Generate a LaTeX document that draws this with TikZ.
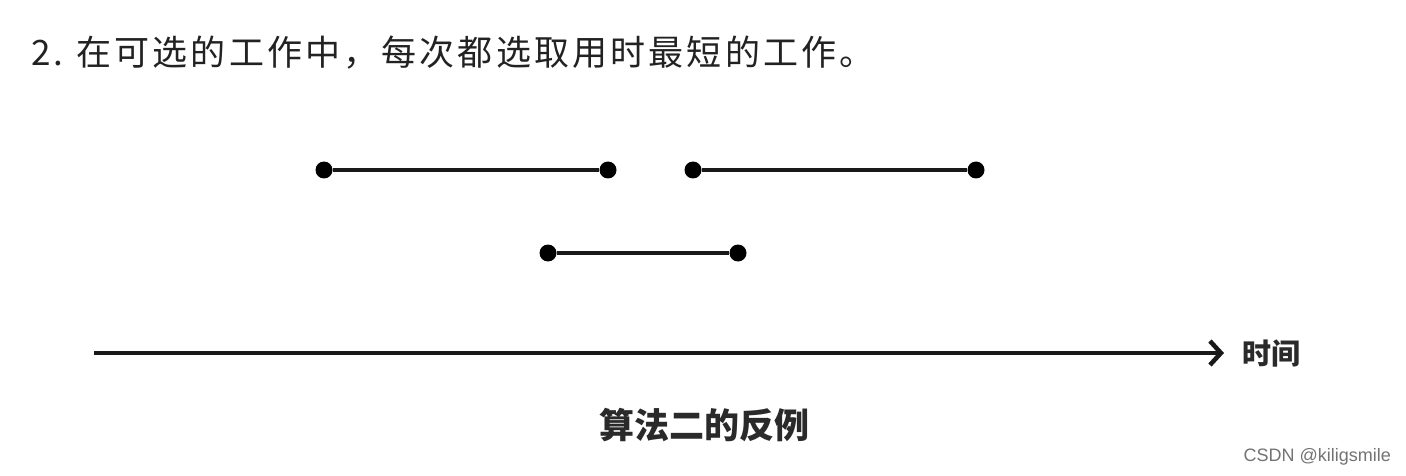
\documentclass[tikz,border=0pt]{standalone}
\usepackage{fontspec}
\setmainfont{Liberation Sans}
\newfontfamily\cjk{Noto Sans CJK SC}
\newfontfamily\cjkwide[LetterSpace=9]{Noto Sans CJK SC}
\usetikzlibrary{arrows.meta}
\definecolor{txt}{HTML}{222222}
\definecolor{cap}{HTML}{2a2a2a}
\begin{document}
\begin{tikzpicture}[x=1pt,y=-1pt,
  dotpt/.style={circle,fill=black,inner sep=0pt,minimum size=17pt},
  seg/.style={line width=4.5pt,black!90},
  axis/.style={line width=4.5pt,black!90,-{Straight Barb[length=11pt,width=24pt,line width=4.5pt]}},
  lbl/.style={font=\cjk\bfseries\fontsize{29}{29}\selectfont,text=cap,inner sep=0pt}]
\useasboundingbox (0,0) rectangle (1406,476);
\fill[white] (0,0) rectangle (1406,476);
\node[anchor=west,inner sep=0pt,text=txt,font=\cjkwide\fontsize{35}{35}\selectfont] (title) at (31,53) {2.\hspace{13pt}在可选的工作中，每次都选取用时最短的工作。};
\node[dotpt] (a1) at (324,170) {};
\node[dotpt] (a2) at (608,170) {};
\node[dotpt] (b1) at (693,170) {};
\node[dotpt] (b2) at (976,170) {};
\node[dotpt] (c1) at (548,253) {};
\node[dotpt] (c2) at (738,253) {};
\draw[seg] (a1) -- (a2);
\draw[seg] (b1) -- (b2);
\draw[seg] (c1) -- (c2);
\coordinate (ax0) at (94,353);
\coordinate (ax1) at (1224,353);
\draw[axis] (ax0) -- (ax1);
\node[lbl,anchor=west] (time) at (1242,353) {时间};
\node[lbl,font=\cjk\bfseries\fontsize{35}{35}\selectfont] (cap) at (704,425) {算法二的反例};
\node[anchor=east,inner sep=0pt,text=black!55,font=\fontsize{18}{18}\selectfont] (wm) at (1391,457) {CSDN @kiligsmile};
\end{tikzpicture}
\end{document}
